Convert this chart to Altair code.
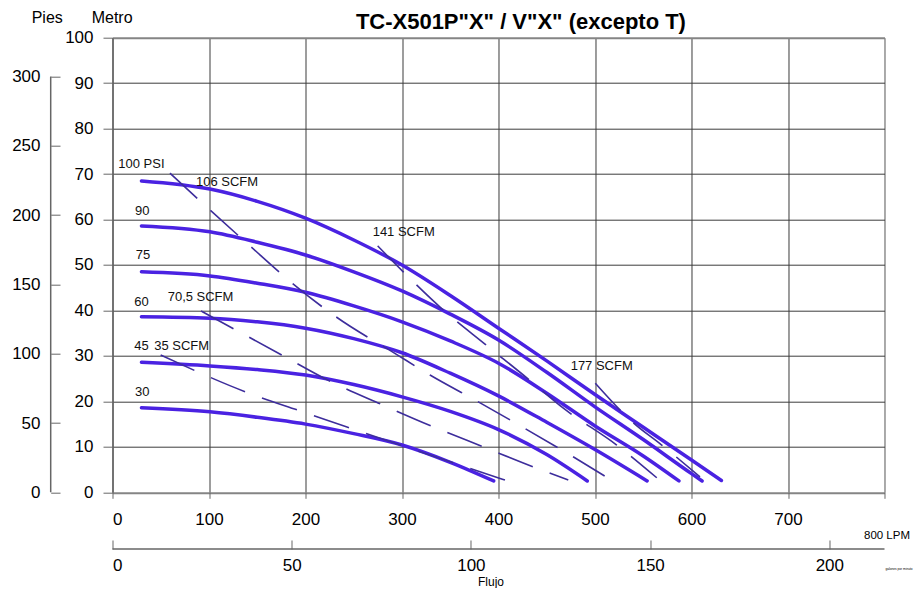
import altair as alt
import pandas as pd

# ---------------- data ----------------
# Pressure curves: flow (LPM) vs head (m)
psi_names = ["100", "90", "75", "60", "45", "30"]
lpm_100 = [30, 101, 150, 200, 250, 300, 350, 400, 450, 500, 550, 600, 631]
m_100 = [68.5, 66.7, 64.0, 60.3, 55.5, 50.0, 43.3, 36.1, 28.9, 21.5, 14.3, 7.1, 2.6]
lpm_90 = [30, 101, 150, 200, 250, 300, 350, 400, 450, 500, 550, 600, 611]
m_90 = [58.6, 57.3, 55.0, 52.2, 48.5, 44.3, 39.2, 33.5, 26.4, 18.8, 11.6, 4.1, 2.5]
lpm_75 = [30, 101, 150, 200, 250, 300, 350, 400, 450, 500, 550, 587]
m_75 = [48.5, 47.6, 46.0, 44.0, 41.0, 37.5, 33.3, 28.4, 21.8, 14.6, 8.0, 2.5]
lpm_60 = [30, 101, 150, 200, 250, 300, 350, 400, 450, 500, 554]
m_60 = [38.6, 38.3, 37.5, 36.1, 33.8, 30.7, 26.2, 21.2, 15.4, 9.4, 2.5]
lpm_45 = [30, 101, 150, 200, 250, 300, 350, 400, 450, 492]
m_45 = [28.6, 27.8, 27.0, 25.8, 23.7, 21.0, 17.8, 13.8, 8.3, 2.5]
lpm_30 = [30, 101, 150, 200, 250, 300, 350, 395]
m_30 = [18.6, 17.7, 16.5, 15.0, 12.9, 10.4, 6.6, 2.5]

# Air consumption lines (SCFM)
scfm_names = ["35", "70,5", "106", "141", "177"]
lpm_s35 = [49.9, 139.0, 194.3, 249.5, 329.0, 406.7]
m_s35 = [30.2, 22.0, 17.9, 13.9, 8.2, 2.7]
lpm_s70 = [91.7, 175.3, 222.0, 279.0, 332.4, 384.2, 439.6, 472.3]
m_s70 = [39.9, 30.2, 24.8, 19.3, 14.4, 10.0, 5.3, 2.7]
lpm_s106 = [59.6, 101.0, 143.5, 185.7, 231.6, 293.8, 329.0, 379.1, 428.5, 478.2, 511.4]
m_s106 = [70.2, 62.1, 54.0, 46.1, 38.6, 30.4, 25.8, 19.9, 13.9, 7.7, 3.4]
lpm_s141 = [274.8, 301.3, 342.8, 386.0, 430.9, 467.2, 522.5, 564.0]
m_s141 = [54.2, 48.5, 40.1, 32.6, 24.9, 18.5, 10.4, 3.2]
lpm_s177 = [500.3, 539.7, 569.1, 608.8]
m_s177 = [24.0, 15.3, 10.4, 3.4]

# In-plot labels
label_text = ["100  PSI", "90", "75", "60", "45", "30", "35 SCFM", "70,5 SCFM",
              "106 SCFM", "141  SCFM", "177  SCFM"]
label_lpm = [6.0, 23.3, 24.0, 22.6, 22.6, 23.3, 43.3, 57.2, 86.5, 269.6, 474.8]
label_m = [72.2, 61.9, 52.2, 41.9, 32.2, 22.1, 32.2, 42.9, 68.2, 57.3, 27.8]

# Axes
lpm_ticks = [0, 100, 200, 300, 400, 500, 600, 700, 800]
m_ticks = [0, 10, 20, 30, 40, 50, 60, 70, 80, 90, 100]
ft_ticks = [0, 50, 100, 150, 200, 250, 300]
gpm_ticks = [0, 50, 100, 150, 200]
LPM_MAX = 800
M_MAX = 100
FT_MAX = 100 * 3.28084
GPM_MAX = 215.4

title_text = 'TC-X501P"X" / V"X" (excepto T)'

# ---------------- build tables ----------------
curves = pd.concat([
    pd.DataFrame({"psi": n, "lpm": x, "m": y})
    for n, x, y in zip(psi_names,
                       [lpm_100, lpm_90, lpm_75, lpm_60, lpm_45, lpm_30],
                       [m_100, m_90, m_75, m_60, m_45, m_30])
])
scfm = pd.concat([
    pd.DataFrame({"scfm": n, "lpm": x, "m": y})
    for n, x, y in zip(scfm_names,
                       [lpm_s35, lpm_s70, lpm_s106, lpm_s141, lpm_s177],
                       [m_s35, m_s70, m_s106, m_s141, m_s177])
])
labels = pd.DataFrame({"t": label_text, "lpm": label_lpm, "m": label_m})

W, H = 772, 454.6
FONT = "Liberation Sans"

edge_test = "datum.value == 0 || datum.value == 100"
X = alt.X("lpm:Q", scale=alt.Scale(domain=[0, LPM_MAX], nice=False, zero=True),
          axis=alt.Axis(values=lpm_ticks, grid=True,
                        gridColor={"condition": {"test": "datum.value == 800", "value": "#555555"}, "value": "#3a3a3a"},
                        gridWidth=1, domain=False, ticks=True, tickSize=6, tickColor="#666666",
                        labelFontSize=17, labelFont=FONT, labelColor="#000000", labelPadding=13,
                        labelExpr="datum.value == 800 ? '' : datum.label", title=None))
Y = alt.Y("m:Q", scale=alt.Scale(domain=[0, M_MAX], nice=False, zero=True),
          axis=alt.Axis(values=m_ticks, grid=True,
                        gridColor={"condition": {"test": edge_test, "value": "#858585"}, "value": "#3a3a3a"},
                        gridWidth={"condition": {"test": edge_test, "value": 2}, "value": 1},
                        domain=True, domainColor="#666666", domainWidth=1.5,
                        ticks=True, tickSize=9.5, tickColor="#666666",
                        labelFontSize=17, labelFont=FONT, labelColor="#000000", labelPadding=10,
                        title=None))

curve_layer = alt.Chart(curves).mark_line(
    color="#4a22e2", strokeWidth=3.5, interpolate="monotone", strokeCap="round"
).encode(x=X, y=Y, detail="psi:N")

scfm_layer = alt.Chart(scfm).mark_line(
    color="#3d2d9c", strokeWidth=1.6, strokeDash=[37, 18], interpolate="monotone"
).encode(x=X, y=Y, detail="scfm:N")

label_layer = alt.Chart(labels).mark_text(
    align="left", baseline="middle", fontSize=13, font=FONT, color="#111111"
).encode(x=X, y=Y, text="t:N")

main = alt.layer(curve_layer, scfm_layer, label_layer)

# Feet axis (Pies) as a bracket on the far left
pies_layer = alt.Chart(pd.DataFrame({"ft": [ft_ticks[0]], "ft2": [ft_ticks[-1]]})).mark_rule(
    color="#666666", strokeWidth=1.5
).encode(
    x=alt.value(-61.8),
    y=alt.Y("ft:Q", scale=alt.Scale(domain=[0, FT_MAX], nice=False, zero=True),
            axis=alt.Axis(orient="left", offset=52.5, values=ft_ticks, domain=False, grid=False,
                          ticks=True, tickSize=9.3, tickColor="#666666",
                          labelFontSize=17, labelFont=FONT, labelColor="#000000",
                          labelPadding=10.7, title=None)),
    y2="ft2:Q",
)

# Gallons per minute axis below
gpm_layer = alt.Chart(pd.DataFrame({"g": [0], "g2": [GPM_MAX]})).mark_rule(
    color="#666666", strokeWidth=1.5
).encode(
    x=alt.X("g:Q", scale=alt.Scale(domain=[0, GPM_MAX], nice=False, zero=True),
            axis=alt.Axis(orient="bottom", offset=47.7, values=gpm_ticks, domain=False, grid=False,
                          ticks=True, tickSize=9, tickColor="#666666",
                          labelFontSize=17, labelFont=FONT, labelColor="#000000",
                          labelPadding=8.7, title=None)),
    x2="g2:Q",
    y=alt.value(H + 56.7),
)


def note(text, x, y, size, align="left", weight="normal"):
    return alt.Chart(pd.DataFrame({"t": [text]})).mark_text(
        align=align, baseline="middle", fontSize=size, font=FONT,
        fontWeight=weight, color="#000000"
    ).encode(x=alt.value(x), y=alt.value(y), text="t:N")


title_layer = alt.Chart(pd.DataFrame({"t": [title_text]})).mark_text(
    align="center", baseline="alphabetic", fontSize=22, font=FONT,
    fontWeight="bold", color="#000000"
).encode(x=alt.value(408.4), y=alt.value(-8.5), text="t:N")

notes = [
    title_layer,
    note("Pies", -80.8, -19.2, 16),
    note("Metro", -20.8, -19.2, 16),
    note("Flujo", 378.5, H + 89.5, 12, align="center"),
    note("800 LPM", 751.5, H + 43.7, 11.5),
    note("galones por minuto", 773.0, H + 76.7, 3.2),
]

chart = alt.layer(main, pies_layer, gpm_layer, *notes).resolve_scale(
    x="independent", y="independent"
).properties(
    width=W, height=H,
    padding={"left": 104.5, "top": 29.7, "right": 30, "bottom": 96},
    autosize=alt.AutoSizeParams(type="none"),
    background="#ffffff",
).configure_view(stroke=None)

chart.save("out.html", embed_options={"renderer": "svg", "actions": False})
